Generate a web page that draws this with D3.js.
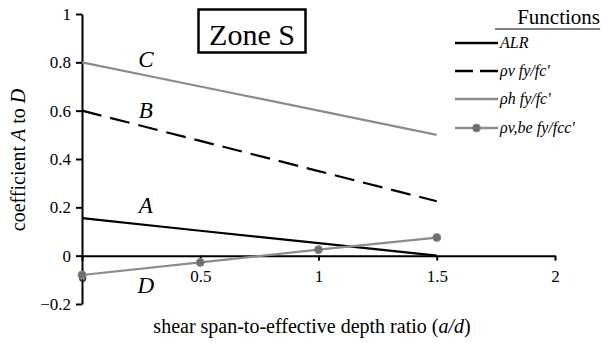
<!DOCTYPE html>
<html>
<head>
<meta charset="utf-8">
<script src="https://cdn.jsdelivr.net/npm/d3@7"></script>
<style>
  html, body { margin: 0; padding: 0; background: #fff; }
  svg { display: block; }
</style>
</head>
<body>
<svg id="chart" width="602" height="343" font-family="Liberation Serif"></svg>
<script>
// Shear span-to-effective depth ratio values
const ratios = [0, 0.5, 1, 1.5];

// Coefficients A to D for Zone S
const coefA = [0.155, 0.103, 0.052, 0];        // ALR
const coefB = [0.6, 0.475, 0.35, 0.225];        // rho_v fy/fc'
const coefC = [0.8, 0.7, 0.6, 0.5];             // rho_h fy/fc'
const coefD = [-0.08, -0.028, 0.025, 0.075];    // rho_v,be fy/fcc'

const xTicks = [0, 0.5, 1, 1.5, 2];
const yTicks = [-0.2, 0, 0.2, 0.4, 0.6, 0.8, 1];

const legendLabels = ["ALR", "ρv fy/fc'", "ρh fy/fc'", "ρv,be fy/fcc'"];
const curveLetters = ["A", "B", "C", "D"];

const FONT = "Liberation Serif";

const svg = d3.select("#chart");

const x = d3.scaleLinear().domain([0, 2]).range([82, 555]);
const y = d3.scaleLinear().domain([-0.2, 1]).range([304, 14]);

const series = [
  { vals: coefA, color: "#000", width: 2.2, dash: null, marker: false },
  { vals: coefB, color: "#000", width: 2.2, dash: "20,9", marker: false },
  { vals: coefC, color: "#8c8c8c", width: 2.2, dash: null, marker: false },
  { vals: coefD, color: "#8c8c8c", width: 2.2, dash: null, marker: true }
];

// Y axis (ticks outward on the left)
const yAxis = d3.axisLeft(y).tickValues(yTicks).tickSize(6).tickSizeOuter(0)
  .tickFormat(d => d3.format("")(+d.toFixed(1)));
const gy = svg.append("g").attr("transform", `translate(${x(0)},0)`).call(yAxis)
  .attr("font-family", FONT).attr("font-size", 17);
gy.select(".domain").attr("stroke", "#000").attr("stroke-width", 2);
gy.selectAll(".tick line").attr("stroke", "#000").attr("stroke-width", 2);
gy.selectAll(".tick text").attr("fill", "#000").attr("x", -11);

// X axis along zero line (ticks point down)
const xAxis = d3.axisBottom(x).tickValues(xTicks).tickSize(5).tickSizeOuter(0)
  .tickFormat(d => d3.format("")(d));
const gx = svg.append("g").attr("transform", `translate(0,${y(0)})`).call(xAxis)
  .attr("font-family", FONT).attr("font-size", 17);
gx.select(".domain").attr("stroke", "#000").attr("stroke-width", 2);
gx.selectAll(".tick line").attr("stroke", "#000").attr("stroke-width", 2);
gx.selectAll(".tick text").attr("fill", "#000").attr("dy", "1.05em");

// Series lines
const line = d3.line().x((d, i) => x(ratios[i])).y(d => y(d));
series.forEach(s => {
  svg.append("path")
    .datum(s.vals)
    .attr("d", line)
    .attr("fill", "none")
    .attr("stroke", s.color)
    .attr("stroke-width", s.width)
    .attr("stroke-dasharray", s.dash);
  if (s.marker) {
    svg.selectAll(null).data(s.vals).enter().append("circle")
      .attr("cx", (d, i) => x(ratios[i]))
      .attr("cy", d => y(d))
      .attr("r", 4)
      .attr("fill", "#6e6e6e")
      .attr("stroke", "#8c8c8c")
      .attr("stroke-width", 1);
  }
});

// Curve letters
const letterPos = [
  { xv: 0.27, yv: 0.175 },
  { xv: 0.27, yv: 0.57 },
  { xv: 0.27, yv: 0.78 },
  { xv: 0.27, yv: -0.155 }
];
svg.selectAll(".letter").data(curveLetters).enter().append("text")
  .attr("class", "letter")
  .attr("x", (d, i) => x(letterPos[i].xv))
  .attr("y", (d, i) => y(letterPos[i].yv))
  .attr("text-anchor", "middle")
  .attr("font-size", 23)
  .attr("font-style", "italic")
  .text(d => d);

// Zone label box
svg.append("rect").attr("x", 198.5).attr("y", 9.5).attr("width", 107).attr("height", 43)
  .attr("fill", "#fff").attr("stroke", "#000").attr("stroke-width", 2.5);
svg.append("text").attr("x", 252).attr("y", 45).attr("text-anchor", "middle")
  .attr("font-size", 30).text("Zone S");

// Legend
svg.append("text").attr("x", 600).attr("y", 24).attr("text-anchor", "end")
  .attr("font-size", 21).text("Functions");
svg.append("line").attr("x1", 495).attr("x2", 600).attr("y1", 29).attr("y2", 29)
  .attr("stroke", "#000").attr("stroke-width", 1.2);

const legendY = [43, 71, 99, 128];
series.forEach((s, i) => {
  svg.append("line")
    .attr("x1", 455).attr("x2", 498)
    .attr("y1", legendY[i]).attr("y2", legendY[i])
    .attr("stroke", s.color).attr("stroke-width", 2.5)
    .attr("stroke-dasharray", s.dash ? "18,7" : null);
  if (s.marker) {
    svg.append("circle").attr("cx", 476.5).attr("cy", legendY[i]).attr("r", 4)
      .attr("fill", "#6e6e6e").attr("stroke", "#8c8c8c");
  }
  svg.append("text").attr("x", 500).attr("y", legendY[i] + 5)
    .attr("font-size", 16).attr("font-style", "italic")
    .text(legendLabels[i]);
});

// Axis titles
const xt = svg.append("text").attr("x", 312).attr("y", 333).attr("text-anchor", "middle")
  .attr("font-size", 20);
xt.append("tspan").text("shear span-to-effective depth ratio (");
xt.append("tspan").attr("font-style", "italic").text("a/d");
xt.append("tspan").text(")");

const yt = svg.append("text").attr("transform", "translate(25,160) rotate(-90)")
  .attr("text-anchor", "middle").attr("font-size", 20);
yt.append("tspan").text("coefficient ");
yt.append("tspan").attr("font-style", "italic").text("A");
yt.append("tspan").text(" to ");
yt.append("tspan").attr("font-style", "italic").text("D");

// Serif face for every label
svg.selectAll("text").attr("font-family", FONT);
</script>
</body>
</html>
